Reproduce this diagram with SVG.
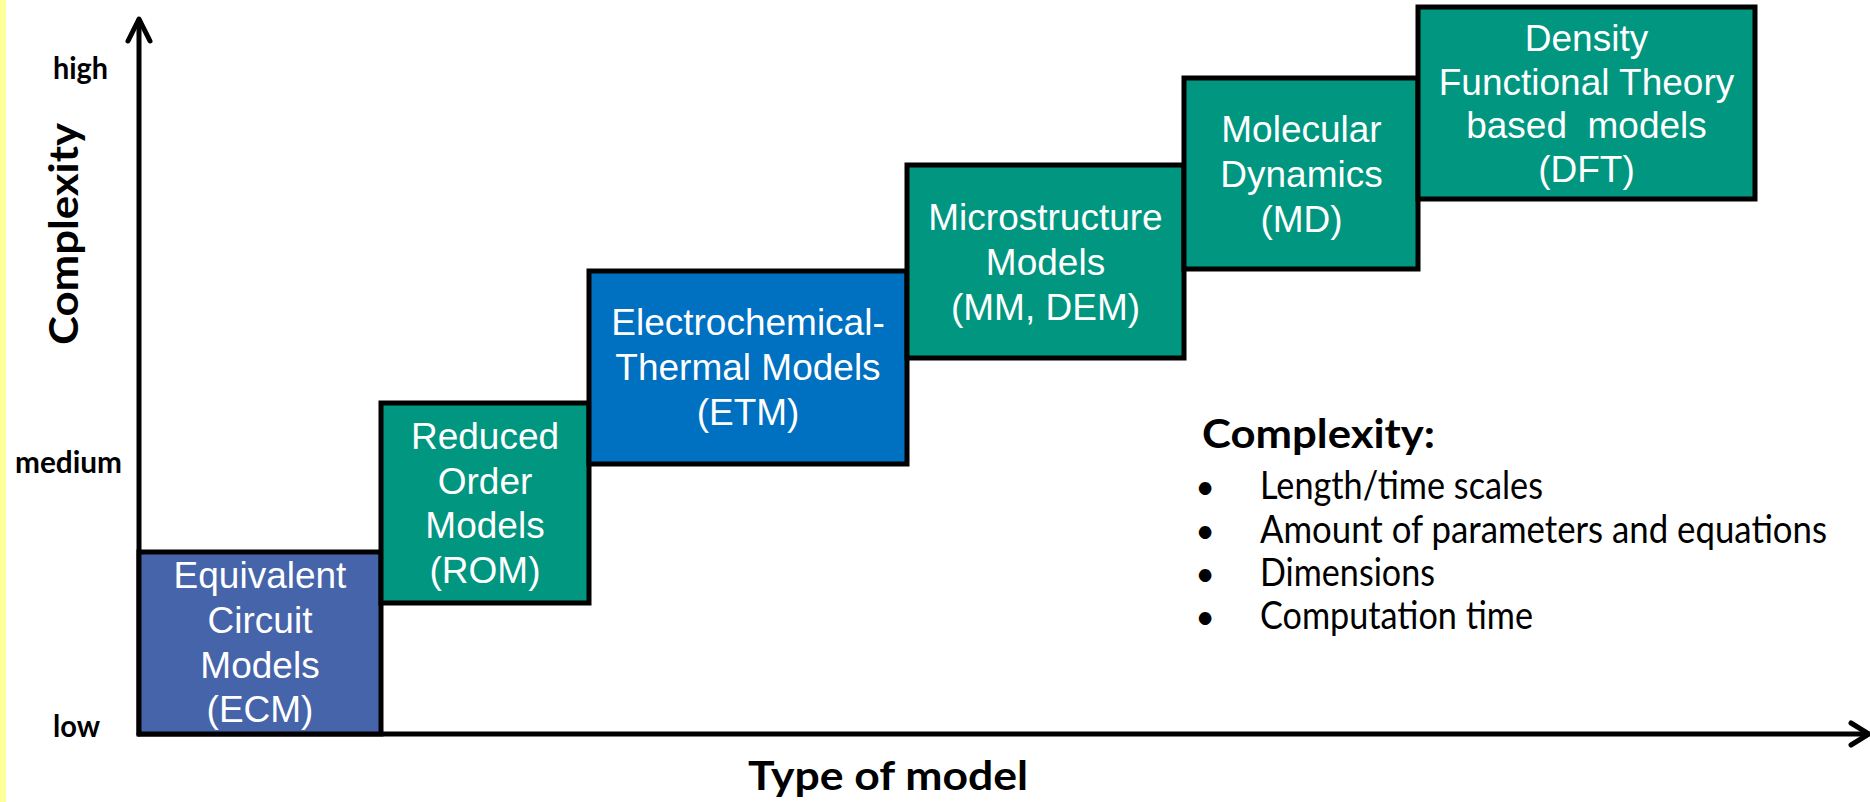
<svg xmlns="http://www.w3.org/2000/svg" width="1870" height="802" viewBox="0 0 1870 802">
  <style>
    .box { stroke: #000; stroke-width: 5; stroke-linejoin: miter; }
    .green { fill: #009680; }
    .ecm { fill: #4664AA; }
    .etm { fill: #0070C0; }
    .bt { font-family: "Liberation Sans", Arial, sans-serif; font-size: 37px; fill: #fff; text-anchor: middle; white-space: pre; }
    .cal { font-family: Lato, "Open Sans", sans-serif; fill: #000; }
    .b { font-weight: bold; }
    .axis { stroke: #000; stroke-width: 5; fill: none; stroke-linecap: round; stroke-linejoin: round; }
  </style>
  <rect x="0" y="0" width="1870" height="802" fill="#fff"/>
  <rect x="0" y="0" width="6" height="802" fill="#FFFF99"/>

  <g id="connectors">
    <path class="axis" d="M139,734 L139,20"/>
    <path class="axis" d="M128,41 L139,19 L150,41"/>
    <path class="axis" d="M139,734 L1868,734"/>
    <path class="axis" d="M1851,723 L1869,734 L1851,745"/>
  </g>

  <g id="axis-labels">
    <text class="cal b" x="53" y="79" font-size="30" textLength="55" lengthAdjust="spacingAndGlyphs">high</text>
    <text class="cal b" x="15" y="473" font-size="30" textLength="107" lengthAdjust="spacingAndGlyphs">medium</text>
    <text class="cal b" x="53" y="737" font-size="30" textLength="47" lengthAdjust="spacingAndGlyphs">low</text>
    <text class="cal b" transform="translate(78,234) rotate(-90)" text-anchor="middle" font-size="41" textLength="222" lengthAdjust="spacingAndGlyphs">Complexity</text>
    <text class="cal b" x="888" y="790" text-anchor="middle" font-size="41" textLength="280" lengthAdjust="spacingAndGlyphs">Type of model</text>
  </g>

  <g id="node-ecm">
    <rect class="box ecm" x="139" y="552" width="242" height="182"/>
    <text class="bt" x="260" y="588">Equivalent</text>
    <text class="bt" x="260" y="633">Circuit</text>
    <text class="bt" x="260" y="678">Models</text>
    <text class="bt" x="260" y="722">(ECM)</text>
  </g>

  <g id="node-rom">
    <rect class="box green" x="381" y="403" width="208" height="200"/>
    <text class="bt" x="485" y="449">Reduced</text>
    <text class="bt" x="485" y="494">Order</text>
    <text class="bt" x="485" y="538">Models</text>
    <text class="bt" x="485" y="583">(ROM)</text>
  </g>

  <g id="node-etm">
    <rect class="box etm" x="589" y="271" width="318" height="193"/>
    <text class="bt" x="748" y="335">Electrochemical-</text>
    <text class="bt" x="748" y="380">Thermal Models</text>
    <text class="bt" x="748" y="425">(ETM)</text>
  </g>

  <g id="node-mm">
    <rect class="box green" x="907" y="165" width="277" height="193"/>
    <text class="bt" x="1045.5" y="230">Microstructure</text>
    <text class="bt" x="1045.5" y="275">Models</text>
    <text class="bt" x="1045.5" y="320">(MM, DEM)</text>
  </g>

  <g id="node-md">
    <rect class="box green" x="1184" y="78" width="234" height="191"/>
    <text class="bt" x="1301.5" y="142">Molecular</text>
    <text class="bt" x="1301.5" y="187">Dynamics</text>
    <text class="bt" x="1301.5" y="232">(MD)</text>
  </g>

  <g id="node-dft">
    <rect class="box green" x="1418" y="7" width="337" height="192"/>
    <text class="bt" x="1586.5" y="51">Density</text>
    <text class="bt" x="1586.5" y="95">Functional Theory</text>
    <text class="bt" x="1586.5" y="138" xml:space="preserve">based  models</text>
    <text class="bt" x="1586.5" y="182">(DFT)</text>
  </g>

  <g id="legend">
    <text class="cal b" x="1202" y="448" font-size="41" textLength="233" lengthAdjust="spacingAndGlyphs">Complexity:</text>
    <text class="cal" x="1205" y="499" font-size="34" text-anchor="middle">•</text>
    <text class="cal" x="1205" y="543" font-size="34" text-anchor="middle">•</text>
    <text class="cal" x="1205" y="586" font-size="34" text-anchor="middle">•</text>
    <text class="cal" x="1205" y="629" font-size="34" text-anchor="middle">•</text>
    <text class="cal" x="1260" y="499" font-size="38" textLength="283" lengthAdjust="spacingAndGlyphs">Length/time scales</text>
    <text class="cal" x="1260" y="543" font-size="38" textLength="567" lengthAdjust="spacingAndGlyphs">Amount of parameters and equations</text>
    <text class="cal" x="1260" y="586" font-size="38" textLength="175" lengthAdjust="spacingAndGlyphs">Dimensions</text>
    <text class="cal" x="1260" y="629" font-size="38" textLength="273" lengthAdjust="spacingAndGlyphs">Computation time</text>
  </g>
</svg>
